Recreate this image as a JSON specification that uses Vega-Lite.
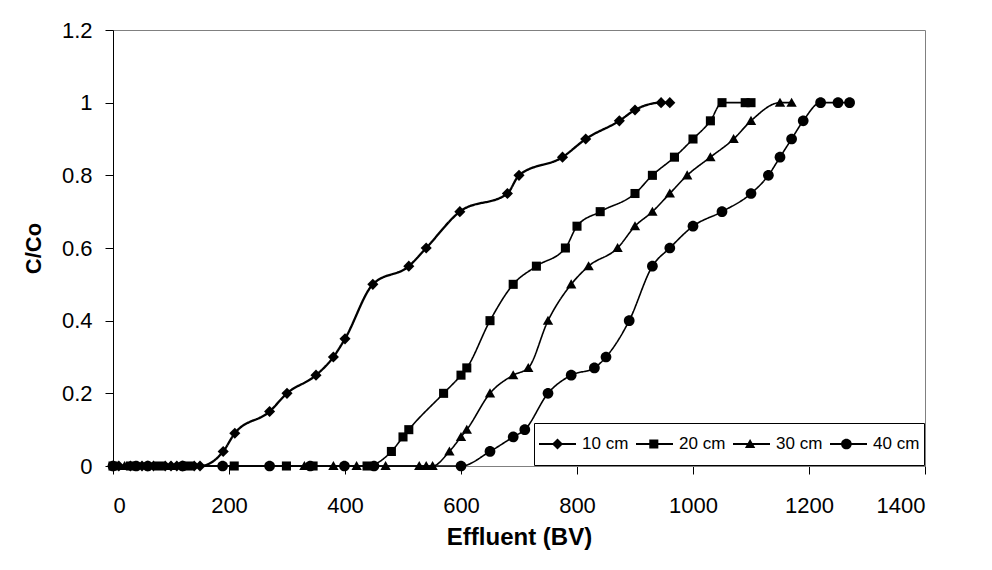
{
  "$schema": "https://vega.github.io/schema/vega-lite/v6.json",
  "autosize": "none",
  "width": 812,
  "height": 436,
  "padding": {"left": 113, "top": 30, "right": 67, "bottom": 104},
  "background": "#ffffff",
  "config": {
    "view": {"stroke": "#808080", "strokeWidth": 1},
    "font": "Liberation Sans",
    "axis": {"grid": false, "labelFont": "Liberation Sans", "titleFont": "Liberation Sans", "labelColor": "#000", "titleColor": "#000", "tickColor": "#000", "labelFontSize": 22, "titleFontSize": 22, "titleFontWeight": "bold", "tickSize": 8}
  },
  "data": {
    "values": [
      {"s": "10 cm", "x": 0, "y": 0}, {"s": "10 cm", "x": 10, "y": 0}, {"s": "10 cm", "x": 30, "y": 0}, {"s": "10 cm", "x": 50, "y": 0},
      {"s": "10 cm", "x": 60, "y": 0}, {"s": "10 cm", "x": 70, "y": 0}, {"s": "10 cm", "x": 90, "y": 0}, {"s": "10 cm", "x": 100, "y": 0},
      {"s": "10 cm", "x": 110, "y": 0}, {"s": "10 cm", "x": 120, "y": 0}, {"s": "10 cm", "x": 140, "y": 0}, {"s": "10 cm", "x": 150, "y": 0},
      {"s": "10 cm", "x": 190, "y": 0.04}, {"s": "10 cm", "x": 210, "y": 0.09}, {"s": "10 cm", "x": 270, "y": 0.15}, {"s": "10 cm", "x": 300, "y": 0.2},
      {"s": "10 cm", "x": 350, "y": 0.25}, {"s": "10 cm", "x": 380, "y": 0.3}, {"s": "10 cm", "x": 400, "y": 0.35}, {"s": "10 cm", "x": 448, "y": 0.5},
      {"s": "10 cm", "x": 510, "y": 0.55}, {"s": "10 cm", "x": 540, "y": 0.6}, {"s": "10 cm", "x": 598, "y": 0.7}, {"s": "10 cm", "x": 680, "y": 0.75},
      {"s": "10 cm", "x": 700, "y": 0.8}, {"s": "10 cm", "x": 775, "y": 0.85}, {"s": "10 cm", "x": 815, "y": 0.9}, {"s": "10 cm", "x": 873, "y": 0.95},
      {"s": "10 cm", "x": 900, "y": 0.98}, {"s": "10 cm", "x": 945, "y": 1}, {"s": "10 cm", "x": 960, "y": 1},
      {"s": "20 cm", "x": 0, "y": 0}, {"s": "20 cm", "x": 30, "y": 0}, {"s": "20 cm", "x": 80, "y": 0}, {"s": "20 cm", "x": 130, "y": 0},
      {"s": "20 cm", "x": 209, "y": 0}, {"s": "20 cm", "x": 299, "y": 0}, {"s": "20 cm", "x": 345, "y": 0}, {"s": "20 cm", "x": 438, "y": 0},
      {"s": "20 cm", "x": 480, "y": 0.04}, {"s": "20 cm", "x": 500, "y": 0.08}, {"s": "20 cm", "x": 510, "y": 0.1}, {"s": "20 cm", "x": 570, "y": 0.2},
      {"s": "20 cm", "x": 600, "y": 0.25}, {"s": "20 cm", "x": 610, "y": 0.27}, {"s": "20 cm", "x": 650, "y": 0.4}, {"s": "20 cm", "x": 690, "y": 0.5},
      {"s": "20 cm", "x": 730, "y": 0.55}, {"s": "20 cm", "x": 780, "y": 0.6}, {"s": "20 cm", "x": 800, "y": 0.66}, {"s": "20 cm", "x": 840, "y": 0.7},
      {"s": "20 cm", "x": 900, "y": 0.75}, {"s": "20 cm", "x": 930, "y": 0.8}, {"s": "20 cm", "x": 968, "y": 0.85}, {"s": "20 cm", "x": 1000, "y": 0.9},
      {"s": "20 cm", "x": 1030, "y": 0.95}, {"s": "20 cm", "x": 1050, "y": 1}, {"s": "20 cm", "x": 1090, "y": 1}, {"s": "20 cm", "x": 1100, "y": 1},
      {"s": "30 cm", "x": 20, "y": 0}, {"s": "30 cm", "x": 100, "y": 0}, {"s": "30 cm", "x": 330, "y": 0}, {"s": "30 cm", "x": 380, "y": 0},
      {"s": "30 cm", "x": 420, "y": 0}, {"s": "30 cm", "x": 470, "y": 0}, {"s": "30 cm", "x": 528, "y": 0}, {"s": "30 cm", "x": 540, "y": 0},
      {"s": "30 cm", "x": 551, "y": 0}, {"s": "30 cm", "x": 580, "y": 0.04}, {"s": "30 cm", "x": 600, "y": 0.08}, {"s": "30 cm", "x": 610, "y": 0.1},
      {"s": "30 cm", "x": 650, "y": 0.2}, {"s": "30 cm", "x": 690, "y": 0.25}, {"s": "30 cm", "x": 716, "y": 0.27}, {"s": "30 cm", "x": 750, "y": 0.4},
      {"s": "30 cm", "x": 790, "y": 0.5}, {"s": "30 cm", "x": 820, "y": 0.55}, {"s": "30 cm", "x": 870, "y": 0.6}, {"s": "30 cm", "x": 900, "y": 0.66},
      {"s": "30 cm", "x": 930, "y": 0.7}, {"s": "30 cm", "x": 960, "y": 0.75}, {"s": "30 cm", "x": 990, "y": 0.8}, {"s": "30 cm", "x": 1030, "y": 0.85},
      {"s": "30 cm", "x": 1070, "y": 0.9}, {"s": "30 cm", "x": 1100, "y": 0.95}, {"s": "30 cm", "x": 1150, "y": 1}, {"s": "30 cm", "x": 1170, "y": 1},
      {"s": "40 cm", "x": 0, "y": 0}, {"s": "40 cm", "x": 40, "y": 0}, {"s": "40 cm", "x": 60, "y": 0}, {"s": "40 cm", "x": 120, "y": 0},
      {"s": "40 cm", "x": 189, "y": 0}, {"s": "40 cm", "x": 270, "y": 0}, {"s": "40 cm", "x": 340, "y": 0}, {"s": "40 cm", "x": 399, "y": 0},
      {"s": "40 cm", "x": 450, "y": 0}, {"s": "40 cm", "x": 600, "y": 0}, {"s": "40 cm", "x": 650, "y": 0.04}, {"s": "40 cm", "x": 690, "y": 0.08},
      {"s": "40 cm", "x": 710, "y": 0.1}, {"s": "40 cm", "x": 750, "y": 0.2}, {"s": "40 cm", "x": 790, "y": 0.25}, {"s": "40 cm", "x": 830, "y": 0.27},
      {"s": "40 cm", "x": 850, "y": 0.3}, {"s": "40 cm", "x": 890, "y": 0.4}, {"s": "40 cm", "x": 930, "y": 0.55}, {"s": "40 cm", "x": 960, "y": 0.6},
      {"s": "40 cm", "x": 1000, "y": 0.66}, {"s": "40 cm", "x": 1050, "y": 0.7}, {"s": "40 cm", "x": 1100, "y": 0.75}, {"s": "40 cm", "x": 1130, "y": 0.8},
      {"s": "40 cm", "x": 1150, "y": 0.85}, {"s": "40 cm", "x": 1170, "y": 0.9}, {"s": "40 cm", "x": 1190, "y": 0.95}, {"s": "40 cm", "x": 1220, "y": 1},
      {"s": "40 cm", "x": 1250, "y": 1}, {"s": "40 cm", "x": 1270, "y": 1}
    ]
  },
  "encoding": {
    "x": {
      "field": "x", "type": "quantitative",
      "scale": {"domain": [0, 1400], "nice": false, "zero": false},
      "axis": {"values": [0, 200, 400, 600, 800, 1000, 1200, 1400], "format": "d", "domainColor": "#808080", "labelPadding": 21, "title": "Effluent (BV)", "titleFontSize": 24, "titlePadding": 9}
    },
    "y": {
      "field": "y", "type": "quantitative",
      "scale": {"domain": [0, 1.2], "nice": false},
      "axis": {"values": [0, 0.2, 0.4, 0.6, 0.8, 1, 1.2], "format": "~g", "domainColor": "#000", "labelPadding": 13, "title": "C/Co", "titlePadding": 16}
    }
  },
  "layer": [
    {
      "mark": {"type": "line", "interpolate": "monotone", "color": "#000"},
      "encoding": {
        "strokeWidth": {"condition": {"test": "datum.s === '10 cm'", "value": 2.3}, "value": 1.6},
        "strokeDash": {
          "field": "s", "type": "nominal",
          "scale": {"range": [[1, 0], [1, 0], [1, 0], [1, 0]]},
          "legend": {
            "orient": "none", "legendX": 421, "legendY": 393, "direction": "horizontal", "title": null,
            "labelFont": "Liberation Sans", "labelFontSize": 17, "labelColor": "#000",
            "symbolType": "stroke", "symbolSize": 1369, "symbolStrokeWidth": 2, "symbolStrokeColor": "#000",
            "symbolOffset": 0, "labelOffset": 5, "columnPadding": 6, "padding": 4,
            "clipHeight": 34, "strokeColor": "#000", "fillColor": "#fff"
          }
        }
      }
    },
    {
      "mark": {"type": "point", "filled": true, "color": "#000", "opacity": 1, "size": 1369},
      "encoding": {
        "shape": {
          "field": "s", "type": "nominal",
          "scale": {
            "domain": ["10 cm", "20 cm", "30 cm", "40 cm"],
            "range": [
              "M0,-0.3L0.3,0L0,0.3L-0.3,0Z",
              "M-0.245,-0.245H0.245V0.245H-0.245Z",
              "M0,-0.27L0.28,0.22H-0.28Z",
              "M0.29,0A0.29,0.29,0,1,1,-0.29,0A0.29,0.29,0,1,1,0.29,0Z"
            ]
          },
          "legend": {
            "orient": "none", "legendX": 421, "legendY": 393, "direction": "horizontal", "title": null,
            "labelFont": "Liberation Sans", "labelFontSize": 17, "labelColor": "#000", "labelExpr": "''",
            "symbolSize": 1369, "symbolStrokeWidth": 2, "symbolStrokeColor": "transparent", "symbolFillColor": "#000", "symbolOpacity": 1,
            "symbolOffset": 0, "labelOffset": 5, "columnPadding": 52.3, "padding": 4,
            "clipHeight": 34
          }
        }
      }
    }
  ]
}
